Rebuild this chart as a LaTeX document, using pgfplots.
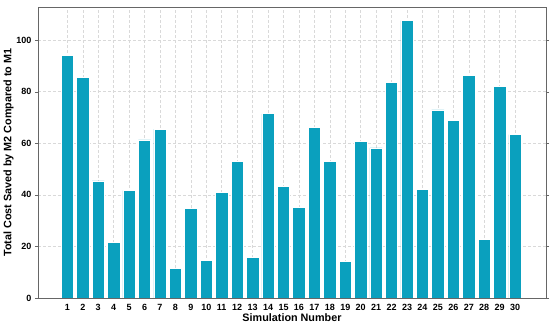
\documentclass[border=0pt]{standalone}
\usepackage{pgfplots}
\pgfplotsset{compat=1.18}
\usepackage{fontspec}
\setmainfont{Liberation Sans}
\definecolor{barc}{RGB}{10,160,190}
\begin{document}
\begin{tikzpicture}[x=1pt,y=1pt]
\path[use as bounding box] (-38,-33) rectangle (512,298);
\begin{axis}[
  scale only axis, width=508pt, height=291pt,
  xmin=-0.9, xmax=32, ymin=0, ymax=112.8,
  xtick={1,...,30}, ytick={0,20,40,60,80,100},
  ticklabel style={font=\bfseries\fontsize{9}{10}\selectfont},
  /pgf/number format/assume math mode=true,
  xlabel={\bfseries Simulation Number},
  ylabel={\bfseries Total Cost Saved by M2 Compared to M1},
  label style={font=\bfseries\fontsize{10.8}{12}\selectfont},
  xlabel style={yshift=4pt},
  ylabel style={yshift=-4pt},
  grid=major, major grid style={densely dashed, gray!30, line width=0.5pt},
  axis line style={gray!80!black, line width=0.8pt},
  tick style={gray!80!black},
  tick align=outside, major tick length=3pt,
  xtick style={draw=none},
]
\addplot[ybar, bar width=0.8, fill=barc, draw=white, line width=0.6pt] coordinates {
(1,94.0) (2,85.5) (3,45.4) (4,21.6) (5,41.6) (6,61.3) (7,65.5) (8,11.4) (9,34.7) (10,14.7)
(11,40.8) (12,52.8) (13,15.6) (14,71.4) (15,43.2) (16,35.2) (17,66.2) (18,52.8) (19,14.2) (20,60.8)
(21,58.2) (22,83.7) (23,107.5) (24,42.1) (25,72.9) (26,68.8) (27,86.2) (28,22.7) (29,82.0) (30,63.3)
};
\end{axis}
\end{tikzpicture}
\end{document}
